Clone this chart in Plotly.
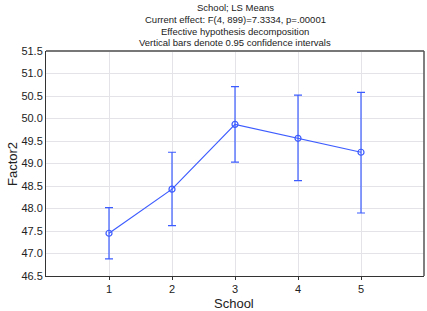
import plotly.graph_objects as go

schools = [1, 2, 3, 4, 5]
means = [47.45, 48.43, 49.87, 49.56, 49.25]
upper = [48.02, 49.25, 50.71, 50.52, 50.58]
lower = [46.88, 47.62, 49.03, 48.62, 47.90]
y_ticks = [46.5, 47.0, 47.5, 48.0, 48.5, 49.0, 49.5, 50.0, 50.5, 51.0, 51.5]
title_lines = ["School; LS Means",
               "Current effect: F(4, 899)=7.3334, p=.00001",
               "Effective hypothesis decomposition",
               "Vertical bars denote 0.95 confidence intervals"]

err_plus = [u - m for u, m in zip(upper, means)]
err_minus = [m - l for m, l in zip(means, lower)]

blue = "#3d5cff"
fig = go.Figure()
fig.add_trace(go.Scatter(
    x=schools, y=means, mode="lines+markers",
    line=dict(color=blue, width=1.2),
    marker=dict(symbol="circle-open", size=6, color=blue, line=dict(width=1.2)),
    error_y=dict(type="data", symmetric=False, array=err_plus, arrayminus=err_minus,
                 color=blue, thickness=1.2, width=4),
    showlegend=False,
))

font_family = "Liberation Sans, Arial, sans-serif"
fig.update_layout(
    width=427, height=311,
    margin=dict(l=46, r=3, t=51, b=35, autoexpand=False),
    paper_bgcolor="white", plot_bgcolor="white",
    font=dict(family=font_family, color="#222222", size=11),
    xaxis=dict(range=[0, 6], tickvals=schools, ticktext=[str(s) for s in schools],
               showgrid=True, gridcolor="#e3e3e8", gridwidth=1,
               showline=True, linecolor="#333333", linewidth=1, mirror=False,
               ticks="outside", ticklen=3, tickcolor="#333333",
               zeroline=False, automargin=False,
               tickfont=dict(size=11)),
    yaxis=dict(range=[46.5, 51.5], tickvals=y_ticks,
               ticktext=[f"{v:.1f}" for v in y_ticks],
               showgrid=True, gridcolor="#e3e3e8", gridwidth=1,
               showline=True, linecolor="#333333", linewidth=1,
               ticks="", zeroline=False, automargin=False,
               tickfont=dict(size=11)),
)
# top and right frame lines
fig.add_shape(type="line", xref="paper", yref="paper", x0=0, x1=1, y0=1, y1=1,
              line=dict(color="#777777", width=2))
fig.add_shape(type="line", xref="paper", yref="paper", x0=1, x1=1, y0=0, y1=1,
              line=dict(color="#555555", width=1.5))

# axis titles placed manually (pixel positions converted to paper coords)
plot_h = 311 - 51 - 35
plot_w = 427 - 46 - 3
fig.add_annotation(text="School", xref="paper", yref="paper",
                   x=(234 - 46) / plot_w, y=-(303 - 276) / plot_h,
                   showarrow=False, font=dict(size=13), yanchor="middle")
fig.add_annotation(text="Factor2", xref="paper", yref="paper",
                   x=-(46 - 12) / plot_w, y=(276 - 164) / plot_h,
                   showarrow=False, font=dict(size=13), textangle=-90,
                   xanchor="center", yanchor="middle")

ys = [8, 19.5, 31, 42.5]
for line, yy in zip(title_lines, ys):
    fig.add_annotation(text=line, xref="paper", yref="paper", x=0.5,
                       y=1 + (51 - yy) / plot_h, showarrow=False,
                       font=dict(size=9.5, color="#222222"), yanchor="middle")

fig.write_html("out.html", config={"displayModeBar": False, "staticPlot": True})

# remove default body margin so the figure sits at the window's top-left corner
with open("out.html", "r", encoding="utf-8") as f:
    html = f.read()
html = html.replace("<body>", '<body style="margin:0;padding:0;overflow:hidden">', 1)
with open("out.html", "w", encoding="utf-8") as f:
    f.write(html)
